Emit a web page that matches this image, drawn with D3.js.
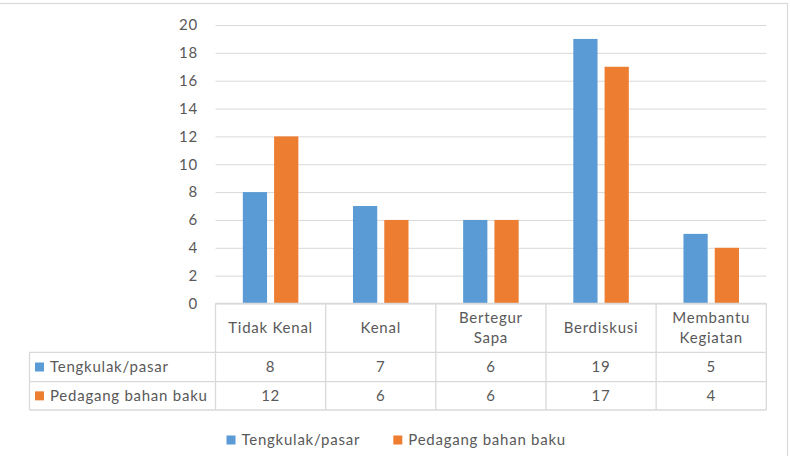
<!DOCTYPE html>
<html>
<head>
<meta charset="utf-8">
<script src="https://cdn.jsdelivr.net/npm/d3@7"></script>
<style>
  body { margin: 0; background: #fff; }
  svg { display: block; font-family: Lato, "Open Sans", sans-serif; }
  text { letter-spacing: 0.75px; }
</style>
</head>
<body>
<div id="container"></div>
<script>
const categories = [["Tidak Kenal"], ["Kenal"], ["Bertegur", "Sapa"], ["Berdiskusi"], ["Membantu", "Kegiatan"]];
const seriesNames = ["Tengkulak/pasar", "Pedagang bahan baku"];
const tengkulak = [8, 7, 6, 19, 5];
const pedagang = [12, 6, 6, 17, 4];
const yTicks = [0, 2, 4, 6, 8, 10, 12, 14, 16, 18, 20];
const colors = ["#5b9bd5", "#ed7d31"];

const width = 790, height = 456;
const margin = { top: 25, right: 24, left: 215.5 };
const plotBottom = 303.5;
const textColor = "#595959";
const lineColor = "#d9d9d9";
const fs = 15;

const svg = d3.select("#container").append("svg")
  .attr("width", width).attr("height", height);

// outer chart frame (left/bottom edges cut off in the picture)
svg.append("rect")
  .attr("x", -2).attr("y", 3.5)
  .attr("width", 789.5).attr("height", height + 5)
  .attr("fill", "none").attr("stroke", lineColor).attr("stroke-width", 1.2);

const catIdx = d3.range(categories.length);
const x = d3.scaleBand().domain(catIdx).range([margin.left, width - margin.right + 0.3]);
const y = d3.scaleLinear().domain([0, 20]).range([plotBottom, margin.top]);

// gridlines
svg.append("g")
  .attr("transform", `translate(${margin.left},0)`)
  .call(d3.axisLeft(y).tickValues(yTicks).tickSize(-(x.range()[1] - margin.left)).tickFormat(""))
  .call(g => g.select(".domain").remove())
  .call(g => g.selectAll("line").attr("stroke", lineColor).attr("stroke-width", 1));

// y tick labels
svg.append("g").selectAll("text").data(yTicks).join("text")
  .attr("x", 198).attr("y", d => y(d)).attr("dy", "0.35em")
  .attr("text-anchor", "end").attr("fill", textColor).attr("font-size", fs)
  .text(d => d);

// bars
const bw = x.bandwidth();
const barW = bw * 0.22;
const barGap = bw * 0.064;
const groupW = barW * 2 + barGap;
const series = [tengkulak, pedagang];
series.forEach((vals, s) => {
  svg.append("g").selectAll("rect").data(vals).join("rect")
    .attr("x", (d, i) => x(i) + (bw - groupW) / 2 + s * (barW + barGap))
    .attr("y", d => y(d))
    .attr("width", barW)
    .attr("height", d => y(0) - y(d))
    .attr("fill", colors[s]);
});

// data table
const rowTop = [plotBottom, 352.3, 381.7, 410];
const tableLeft = 29.5;
const tableRight = x.range()[1];
const tg = svg.append("g").attr("stroke", lineColor).attr("stroke-width", 1.3).attr("fill", "none");
tg.append("line").attr("x1", margin.left).attr("x2", tableRight).attr("y1", rowTop[0]).attr("y2", rowTop[0]);
[1, 2, 3].forEach(r => {
  tg.append("line").attr("x1", tableLeft).attr("x2", tableRight).attr("y1", rowTop[r]).attr("y2", rowTop[r]);
});
catIdx.concat([categories.length]).forEach(i => {
  const xx = i < categories.length ? x(i) : tableRight;
  tg.append("line").attr("x1", xx).attr("x2", xx).attr("y1", rowTop[0]).attr("y2", rowTop[3]);
});
tg.append("line").attr("x1", tableLeft).attr("x2", tableLeft).attr("y1", rowTop[1]).attr("y2", rowTop[3]);

// header labels
const hdr = svg.append("g").selectAll("text").data(categories).join("text")
  .attr("text-anchor", "middle").attr("fill", textColor).attr("font-size", fs)
  .attr("x", (d, i) => x(i) + bw / 2);
hdr.each(function (d) {
  const mid = (rowTop[0] + rowTop[1]) / 2;
  const lh = 20.5;
  d.forEach((line, k) => {
    d3.select(this).append("tspan")
      .attr("x", d3.select(this).attr("x"))
      .attr("y", mid + (k - (d.length - 1) / 2) * lh)
      .attr("dy", "0.35em")
      .text(line);
  });
});

// value rows
series.forEach((vals, s) => {
  const cy = (rowTop[s + 1] + rowTop[s + 2]) / 2;
  svg.append("rect").attr("x", 35).attr("y", cy - 4.5).attr("width", 9).attr("height", 9).attr("fill", colors[s]);
  svg.append("text").attr("x", 50).attr("y", cy).attr("dy", "0.35em")
    .attr("fill", textColor).attr("font-size", fs).text(seriesNames[s]);
  svg.append("g").selectAll("text").data(vals).join("text")
    .attr("x", (d, i) => x(i) + bw / 2).attr("y", cy).attr("dy", "0.35em")
    .attr("text-anchor", "middle").attr("fill", textColor).attr("font-size", fs)
    .text(d => d);
});

// legend
const legendX = [226.5, 393.3];
seriesNames.forEach((name, s) => {
  const ly = 440;
  svg.append("rect").attr("x", legendX[s]).attr("y", ly - 4.5).attr("width", 9).attr("height", 9).attr("fill", colors[s]);
  svg.append("text").attr("x", legendX[s] + 15).attr("y", ly).attr("dy", "0.35em")
    .attr("fill", textColor).attr("font-size", fs).text(name);
});
</script>
</body>
</html>
